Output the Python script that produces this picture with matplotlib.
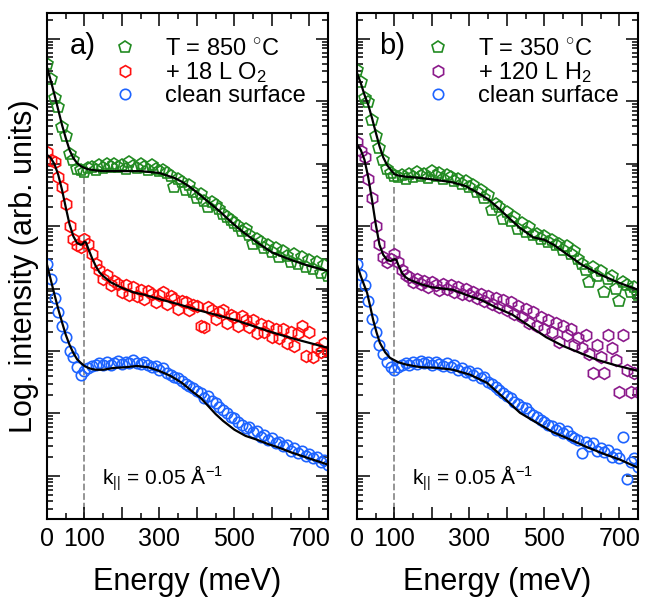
import numpy as np
import matplotlib
matplotlib.use("Agg")
import matplotlib.pyplot as plt
from matplotlib.ticker import MultipleLocator, LogLocator, FuncFormatter, NullFormatter

plt.rcParams["font.family"] = ["Liberation Sans", "DejaVu Sans"]
plt.rcParams["mathtext.fontset"] = "custom"
plt.rcParams["mathtext.rm"] = "Liberation Sans"
plt.rcParams["mathtext.it"] = "Liberation Sans:italic"
plt.rcParams["mathtext.bf"] = "Liberation Sans:bold"

# energy loss grid of the measured spectra (meV)
energy = np.arange(0, 760, 10)

# log10 of measured intensity (arb. units, curves offset for clarity)
# panel a)
green_a = [6.60, 6.35, 6.05, 5.90, 5.58, 5.45, 5.15, 5.05, 4.92, 4.90,
           4.86, 4.93, 4.95, 4.90, 4.97, 4.93, 4.99, 4.94, 5.00, 4.95,
           4.98, 4.92, 5.02, 4.96, 4.93, 5.00, 4.95, 4.90, 4.97, 4.92,
           4.88, 4.90, 4.85, 4.80, 4.62, 4.75, 4.70, 4.58, 4.65, 4.55,
           4.45, 4.52, 4.40, 4.30, 4.38, 4.33, 4.27, 4.20, 4.15, 4.10,
           4.05, 4.00, 3.92, 3.95, 3.85, 3.72, 3.80, 3.75, 3.65, 3.70,
           3.58, 3.65, 3.50, 3.60, 3.52, 3.42, 3.55, 3.40, 3.50, 3.35,
           3.45, 3.32, 3.42, 3.25, 3.38, 3.20]
red_a = [5.18, 5.05, 5.02, 4.78, 4.62, 4.35, 4.00, 3.80, 3.70, 3.66,
         3.80, 3.72, 3.55, 3.40, 3.30, 3.15, 3.22, 3.05, 3.12, 3.08,
         2.95, 3.05, 2.90, 3.02, 2.88, 2.98, 2.83, 2.96, 2.92, 2.78,
         2.90, 2.95, 2.75, 2.88, 2.84, 2.68, 2.80, 2.78, 2.65, 2.74,
         2.72, 2.40, 2.38, 2.70, 2.66, 2.52, 2.62, 2.66, 2.45, 2.58,
         2.55, 2.40, 2.56, 2.50, 2.38, 2.50, 2.28, 2.44, 2.30, 2.40,
         2.22, 2.36, 2.20, 2.35, 2.12, 2.30, 2.08, 2.28, 2.40, 1.92,
         2.30, 1.90, 2.05, 1.98, 2.12, 2.00]
blue_a = [3.40, 3.15, 2.85, 2.62, 2.40, 2.22, 2.00, 1.90, 1.75, 1.62,
          1.68, 1.72, 1.76, 1.78, 1.80, 1.77, 1.82, 1.78, 1.81, 1.84,
          1.79, 1.83, 1.80, 1.85, 1.81, 1.79, 1.83, 1.78, 1.74, 1.76,
          1.70, 1.72, 1.65, 1.62, 1.58, 1.56, 1.52, 1.47, 1.44, 1.40,
          1.36, 1.33, 1.25, 1.28, 1.20, 1.16, 1.10, 1.05, 1.00, 0.95,
          0.92, 0.86, 0.82, 0.76, 0.78, 0.70, 0.72, 0.62, 0.66, 0.58,
          0.60, 0.52, 0.55, 0.48, 0.50, 0.40, 0.45, 0.36, 0.40, 0.32,
          0.35, 0.28, 0.30, 0.22, 0.25, 0.18]

# panel b)
green_b = [6.50, 6.30, 6.05, 5.98, 5.70, 5.45, 5.25, 5.05, 4.92, 4.85,
           4.80, 4.78, 4.82, 4.76, 4.84, 4.78, 4.86, 4.80, 4.83, 4.77,
           4.88, 4.80, 4.85, 4.75, 4.82, 4.78, 4.72, 4.76, 4.68, 4.72,
           4.62, 4.66, 4.55, 4.58, 4.45, 4.50, 4.25, 4.35, 4.30, 4.12,
           4.22, 4.08, 4.15, 3.95, 4.05, 3.90, 3.98, 3.85, 3.88, 3.80,
           3.84, 3.75, 3.78, 3.70, 3.72, 3.62, 3.68, 3.55, 3.60, 3.48,
           3.40, 3.30, 3.10, 3.35, 3.20, 3.28, 2.95, 3.15, 3.20, 3.00,
           2.80, 3.10, 3.05, 2.95, 3.02, 2.90]
purple_b = [5.35, 5.20, 5.10, 4.75, 4.45, 4.00, 3.72, 3.50, 3.42, 3.48,
            3.55, 3.42, 3.30, 3.22, 3.18, 3.10, 3.15, 3.08, 3.12, 3.02,
            3.10, 3.05, 2.98, 3.08, 3.00, 3.05, 2.95, 3.02, 2.92, 3.00,
            2.90, 2.95, 2.85, 2.92, 2.80, 2.88, 2.75, 2.85, 2.70, 2.82,
            2.65, 2.78, 2.60, 2.72, 2.55, 2.68, 2.45, 2.62, 2.40, 2.55,
            2.35, 2.50, 2.30, 2.45, 2.15, 2.40, 2.25, 2.35, 2.10, 2.20,
            2.05, 2.25, 1.95, 1.65, 2.10, 1.90, 1.65, 2.26, 2.05, 1.86,
            1.34, 2.26, 1.70, 1.34, 1.65, 1.34]
blue_b = [3.40, 3.22, 3.05, 2.80, 2.52, 2.30, 2.10, 1.95, 1.82, 1.75,
          1.70, 1.74, 1.78, 1.80, 1.77, 1.82, 1.79, 1.84, 1.80, 1.83,
          1.78, 1.82, 1.79, 1.76, 1.80, 1.74, 1.77, 1.70, 1.72, 1.66,
          1.68, 1.62, 1.64, 1.56, 1.58, 1.50, 1.47, 1.42, 1.38, 1.33,
          1.28, 1.24, 1.18, 1.15, 1.10, 1.08, 1.02, 0.98, 0.95, 0.90,
          0.86, 0.82, 0.80, 0.74, 0.76, 0.68, 0.72, 0.64, 0.60, 0.58,
          0.36, 0.55, 0.48, 0.52, 0.40, 0.45, 0.38, 0.42, 0.30, 0.35,
          0.28, 0.62, -0.05, 0.22, 0.28, 0.15]

# model fits (energy in meV, log10 intensity)
fit_green_a_x = [0, 10, 20, 30, 40, 50, 60, 70, 80, 90, 100, 110, 120, 130,
                 150, 200, 250, 300, 320, 340, 360, 380, 400, 420, 440, 460,
                 480, 500, 520, 540, 560, 580, 600, 625, 650, 675, 700, 725, 750]
fit_green_a_y = [6.54, 6.33, 6.10, 5.86, 5.62, 5.41, 5.22, 5.09, 5.01, 4.96,
                 4.93, 4.91, 4.90, 4.89, 4.88, 4.88, 4.88, 4.85, 4.81, 4.77,
                 4.71, 4.63, 4.54, 4.44, 4.34, 4.24, 4.13, 4.02, 3.92, 3.83,
                 3.74, 3.66, 3.58, 3.52, 3.46, 3.41, 3.36, 3.32, 3.28]
fit_red_a_x = [0, 10, 20, 30, 40, 50, 60, 70, 80, 90, 95, 100, 104, 110, 120,
               130, 140, 150, 170, 200, 230, 260, 300, 350, 400, 450, 500,
               550, 600, 650, 700, 750]
fit_red_a_y = [5.14, 5.09, 4.99, 4.82, 4.58, 4.30, 4.03, 3.84, 3.73, 3.70,
               3.71, 3.75, 3.74, 3.64, 3.49, 3.36, 3.26, 3.20, 3.10, 3.01,
               2.94, 2.90, 2.83, 2.75, 2.66, 2.58, 2.50, 2.40, 2.30, 2.21,
               2.13, 2.05]
fit_blue_a_x = [0, 10, 20, 30, 40, 50, 60, 70, 80, 90, 100, 110, 120, 130,
                150, 180, 210, 240, 270, 300, 330, 360, 390, 410, 430, 450,
                470, 500, 530, 560, 590, 620, 650, 680, 710, 750]
fit_blue_a_y = [3.38, 3.14, 2.90, 2.67, 2.46, 2.26, 2.10, 1.97, 1.87, 1.81,
                1.76, 1.73, 1.71, 1.70, 1.70, 1.73, 1.74, 1.76, 1.74, 1.68,
                1.60, 1.49, 1.34, 1.25, 1.12, 0.99, 0.88, 0.74, 0.64, 0.58,
                0.51, 0.45, 0.38, 0.32, 0.26, 0.18]
fit_green_b_x = [0, 10, 20, 30, 40, 50, 60, 70, 80, 90, 100, 110, 130, 170,
                 210, 255, 290, 320, 350, 375, 400, 435, 470, 500, 525, 560,
                 600, 650, 700, 750]
fit_green_b_y = [6.45, 6.29, 6.10, 5.94, 5.73, 5.50, 5.28, 5.10, 4.98, 4.90,
                 4.83, 4.81, 4.79, 4.77, 4.74, 4.70, 4.64, 4.54, 4.43, 4.30,
                 4.16, 3.97, 3.82, 3.78, 3.70, 3.55, 3.38, 3.22, 3.09, 2.98]
fit_purple_b_x = [0, 10, 20, 30, 40, 50, 60, 70, 80, 90, 100, 105, 110, 120,
                  130, 140, 170, 200, 255, 300, 330, 370, 415, 460, 505, 550,
                  595, 640, 685, 750]
fit_purple_b_y = [5.30, 5.22, 5.06, 4.78, 4.42, 4.03, 3.70, 3.54, 3.46, 3.44,
                  3.47, 3.46, 3.38, 3.25, 3.18, 3.14, 3.07, 3.02, 2.98, 2.88,
                  2.82, 2.70, 2.58, 2.40, 2.22, 2.08, 1.97, 1.86, 1.78, 1.68]
fit_blue_b_x = [0, 10, 20, 27, 35, 43, 52, 61, 75, 88, 110, 133, 170, 214,
                256, 302, 347, 390, 435, 480, 523, 570, 614, 660, 702, 750]
fit_blue_b_y = [3.38, 3.20, 3.04, 2.93, 2.72, 2.50, 2.30, 2.13, 1.98, 1.89,
                1.82, 1.78, 1.74, 1.73, 1.70, 1.62, 1.49, 1.26, 1.01, 0.85,
                0.70, 0.58, 0.46, 0.35, 0.26, 0.13]

labels_a = [r"T = 850 $^{\circ}$C", r"+ 18 L O$_2$", "clean surface"]
labels_b = [r"T = 350 $^{\circ}$C", r"+ 120 L H$_2$", "clean surface"]
kpar_text = r"k$_{||}$ = 0.05 Å$^{-1}$"
xtick_labels = [0, 100, 300, 500, 700]

GREEN = "#228B22"
RED = "#FF1010"
BLUE = "#1E64FF"
PURPLE = "#8B1A8B"

YLOW, YHIGH = -0.69, 7.41


def draw_panel(ax, tag, series, fits, cut, leg_x):
    for pts, marker, ms, color, label in series:
        ax.plot(energy, 10 ** np.array(pts), ls="none", marker=marker, ms=ms,
                mfc="none", mec=color, mew=1.2, label=label)
    for fx, fy in fits:
        ax.plot(fx, 10 ** np.array(fy), color="k", lw=1.6, zorder=3)
    # marks the 100 meV feature
    ax.plot([100, 100], [10 ** YLOW, 10 ** cut], ls="--", color="#8c8c8c",
            lw=1.3, zorder=1)

    ax.set_yscale("log")
    ax.set_xlim(0, 750)
    ax.set_ylim(10 ** YLOW, 10 ** YHIGH)
    ax.yaxis.set_major_locator(LogLocator(base=10, numticks=30))
    ax.yaxis.set_minor_locator(LogLocator(base=10, subs=np.arange(2, 10), numticks=30))
    ax.yaxis.set_major_formatter(NullFormatter())
    ax.yaxis.set_minor_formatter(NullFormatter())
    ax.xaxis.set_major_locator(MultipleLocator(100))
    ax.xaxis.set_minor_locator(MultipleLocator(50))
    ax.xaxis.set_major_formatter(FuncFormatter(
        lambda v, p: f"{v:.0f}" if int(round(v)) in xtick_labels else ""))
    ax.tick_params(which="both", direction="in", top=True, right=True,
                   width=1.1, labelsize=18, pad=6)
    ax.tick_params(which="major", length=9)
    ax.tick_params(which="minor", length=4.5)
    for sp in ax.spines.values():
        sp.set_linewidth(1.5)

    ax.set_xlabel("Energy (meV)", fontsize=22)
    ax.xaxis.set_label_coords(0.5, -0.095)
    ax.text(0.08, 0.935, tag, transform=ax.transAxes, fontsize=21, va="center")
    ax.text(0.195, 0.081, kpar_text, transform=ax.transAxes, fontsize=15, va="center")
    ax.legend(loc="upper left", bbox_to_anchor=(leg_x, 0.951), frameon=False,
              fontsize=17, handlelength=0.8, handletextpad=1.3, labelspacing=0.0,
              borderpad=0, borderaxespad=0, numpoints=1)


fig = plt.figure(figsize=(6.45, 6.03), dpi=100)
ax_a = fig.add_axes([0.0729, 0.1393, 0.4357, 0.839])
ax_b = fig.add_axes([0.5535, 0.1393, 0.4357, 0.839])

draw_panel(ax_a, "a)",
           [(green_a, "p", 9, GREEN, labels_a[0]),
            (red_a, "h", 8.5, RED, labels_a[1]),
            (blue_a, "o", 7.5, BLUE, labels_a[2])],
           [(fit_green_a_x, fit_green_a_y), (fit_red_a_x, fit_red_a_y),
            (fit_blue_a_x, fit_blue_a_y)],
           cut=4.82, leg_x=0.244)
draw_panel(ax_b, "b)",
           [(green_b, "p", 9, GREEN, labels_b[0]),
            (purple_b, "h", 8.5, PURPLE, labels_b[1]),
            (blue_b, "o", 7.5, BLUE, labels_b[2])],
           [(fit_green_b_x, fit_green_b_y), (fit_purple_b_x, fit_purple_b_y),
            (fit_blue_b_x, fit_blue_b_y)],
           cut=4.62, leg_x=0.255)

ax_a.set_ylabel("Log. intensity (arb. units)", fontsize=22)
ax_a.yaxis.set_label_coords(-0.028, 0.5)

fig.savefig("out.png", dpi=100)
